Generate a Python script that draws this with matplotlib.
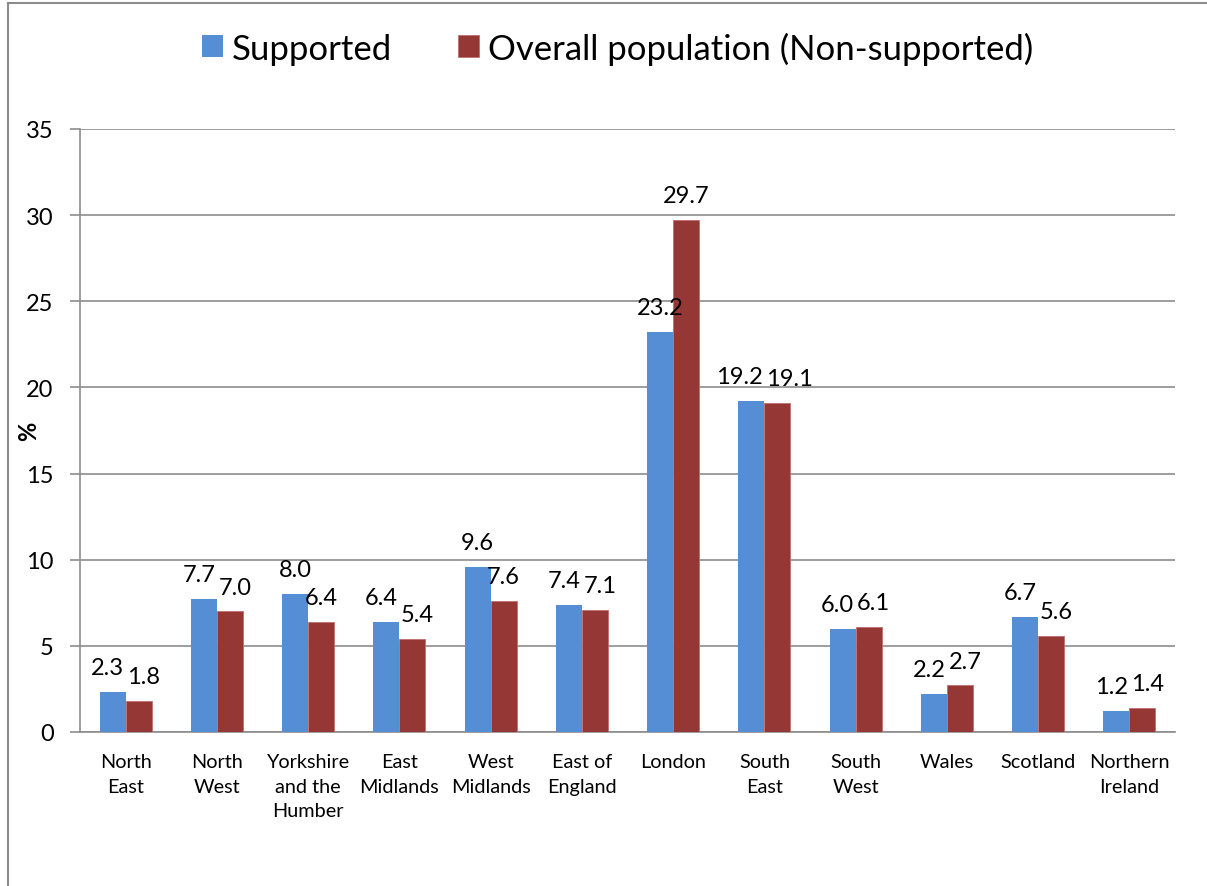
import matplotlib.pyplot as plt
import numpy as np
from matplotlib.lines import Line2D

# Data
regions = ["North\nEast", "North\nWest", "Yorkshire\nand the\nHumber", "East\nMidlands",
           "West\nMidlands", "East of\nEngland", "London", "South\nEast", "South\nWest",
           "Wales", "Scotland", "Northern\nIreland"]
supported = [2.3, 7.7, 8.0, 6.4, 9.6, 7.4, 23.2, 19.2, 6.0, 2.2, 6.7, 1.2]
non_supported = [1.8, 7.0, 6.4, 5.4, 7.6, 7.1, 29.7, 19.1, 6.1, 2.7, 5.6, 1.4]
yticks = [0, 5, 10, 15, 20, 25, 30, 35]

blue = "#558ED5"
red = "#953735"
grid_col = "#8C8C8C"

plt.rcParams['font.family'] = ['Lato', 'DejaVu Sans']

W, H = 1207, 887
fig = plt.figure(figsize=(W / 100, H / 100), dpi=100)
ax = fig.add_axes([80 / W, 1 - 733 / H, (1175 - 80) / W, (733 - 130) / H])

x = np.arange(len(regions))
bw = 0.285
b1 = ax.bar(x - bw / 2, supported, bw, color=blue, label="Supported", zorder=3)
b2 = ax.bar(x + bw / 2, non_supported, bw, color=red, edgecolor="#C0706E", linewidth=0.6,
            label="Overall population (Non-supported)", zorder=3)

labels = []
for bars, vals in ((b1, supported), (b2, non_supported)):
    row = []
    for r, v in zip(bars, vals):
        t = ax.annotate(f"{v:.1f}", (r.get_x() + r.get_width() / 2, v), xytext=(0, 10),
                        textcoords="offset points", ha="center", va="bottom", fontsize=17,
                        zorder=4)
        row.append(t)
    labels.append(row)

ax.set_xlim(-0.5, len(regions) - 0.5)
ax.set_ylim(0, 35)
ax.set_yticks(yticks)
ax.set_xticks(x)
ax.set_xticklabels(regions, fontsize=14.3, linespacing=1.55)
ax.tick_params(axis='y', labelsize=17, length=7, width=1.2, color=grid_col, pad=12)
ax.tick_params(axis='x', length=0, pad=15)
ax.yaxis.grid(True, color=grid_col, linewidth=1.2, zorder=0)
ax.set_axisbelow(True)
for s in ("top", "right"):
    ax.spines[s].set_visible(False)
ax.spines["left"].set_color(grid_col)
ax.spines["left"].set_linewidth(1.2)
ax.spines["bottom"].set_color(grid_col)
ax.spines["bottom"].set_linewidth(1.2)
ax.set_ylabel("%", fontsize=17, fontweight="bold")
ax.yaxis.set_label_coords(-40 / 1095, 0.5)

fig.legend(handles=[b1, b2], loc="center", bbox_to_anchor=(618 / W, 1 - 49 / H),
           ncol=2, frameon=False, fontsize=25, handlelength=0.6, handleheight=0.6,
           handletextpad=0.26, columnspacing=1.9)

# push apart the two value labels of a pair when they collide
fig.canvas.draw()
rend = fig.canvas.get_renderer()
gap = 3
for t1, t2 in zip(labels[0], labels[1]):
    e1 = t1.get_window_extent(rend)
    e2 = t2.get_window_extent(rend)
    if e1.y1 > e2.y0 and e2.y1 > e1.y0:
        d = e1.x1 - e2.x0 + gap
        if d > 0:
            s = d / 2 * 72 / fig.dpi
            t1.xyann = (-s, 10)
            t2.xyann = (s, 10)

# outer frame (left and top border)
fig.add_artist(Line2D([8 / W, 8 / W], [0, 1 - 4 / H], transform=fig.transFigure,
                      color="#8C8C8C", linewidth=1.5))
fig.add_artist(Line2D([8 / W, 1], [1 - 4 / H, 1 - 4 / H], transform=fig.transFigure,
                      color="#8C8C8C", linewidth=1.5))

fig.savefig("out.png", dpi=100)
